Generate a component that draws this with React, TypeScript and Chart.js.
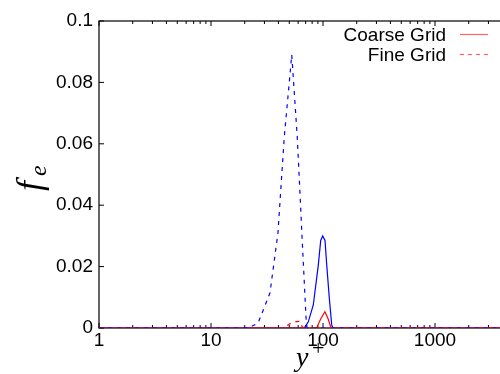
import React, { useEffect, useRef } from "react";
import { Chart, registerables } from "chart.js";
Chart.register(...registerables);

const xTickValues = [1, 10, 100, 1000, 10000];
const xTickLabels = ["1", "10", "100", "1000", "10000"];
const yTickValues = [0, 0.02, 0.04, 0.06, 0.08, 0.1];
const yTickLabels = ["0", "0.02", "0.04", "0.06", "0.08", "0.1"];

const legendLabels = ["Coarse Grid", "Fine Grid"];

// Fine grid, blue dashed
const fineBlueX = [1, 20, 22.3, 26.3, 30, 33.6, 36.5, 39.6, 42.5, 45.1, 48, 50, 52.6, 55, 58.9, 61.8, 64.9, 67.5, 70.5, 72, 100, 1000, 10000];
const fineBlueY = [0, 0, 0.0003, 0.0016, 0.0068, 0.0114, 0.0212, 0.031, 0.048, 0.0622, 0.073, 0.08, 0.089, 0.0785, 0.0622, 0.0466, 0.03, 0.0176, 0.0036, 0, 0, 0, 0];

// Coarse grid, blue solid
const coarseBlueX = [1, 68, 73.9, 81.9, 90.8, 95.4, 99.4, 104.2, 108, 113.8, 119.6, 122.8, 1000, 10000];
const coarseBlueY = [0, 0, 0.002, 0.0075, 0.0205, 0.0285, 0.03, 0.0285, 0.0205, 0.0098, 0.001, 0, 0, 0];

// Coarse grid, red solid
const coarseRedX = [1, 86, 88, 95.6, 104, 111, 118, 1000, 10000];
const coarseRedY = [0, 0, 0.0002, 0.003, 0.0053, 0.003, 0, 0, 0];

// Fine grid, red dashed
const fineRedX = [1, 44, 48.7, 53, 58, 62.3, 65, 67, 1000, 10000];
const fineRedY = [0, 0, 0.001, 0.0018, 0.0021, 0.0022, 0.0005, 0, 0, 0];

const zip = (xs: number[], ys: number[]) => xs.map((x, i) => ({ x, y: ys[i] }));

const SANS = '"Liberation Sans", Arial, sans-serif';
const SERIF = '"Liberation Serif", "Times New Roman", serif';

const framePlugin = {
  id: "frame",
  beforeDatasetsDraw(chart: any) {
    const { ctx, chartArea, scales } = chart;
    const { left, right, top, bottom } = chartArea;
    const x = scales.x;
    const y = scales.y;
    ctx.save();
    ctx.strokeStyle = "#000";
    ctx.lineWidth = 1.2;
    ctx.strokeRect(left, top, right - left, bottom - top);
    ctx.lineWidth = 1;
    const line = (x1: number, y1: number, x2: number, y2: number) => {
      ctx.beginPath();
      ctx.moveTo(x1, y1);
      ctx.lineTo(x2, y2);
      ctx.stroke();
    };
    for (let d = 0; d < 4; d++) {
      for (let m = 1; m <= 9; m++) {
        const px = x.getPixelForValue(m * Math.pow(10, d));
        const len = m === 1 ? 5 : 3;
        line(px, bottom, px, bottom - len);
        line(px, top, px, top + len);
      }
    }
    const pxLast = x.getPixelForValue(10000);
    line(pxLast, bottom, pxLast, bottom - 5);
    line(pxLast, top, pxLast, top + 5);
    yTickValues.forEach((v) => {
      const py = y.getPixelForValue(v);
      line(left, py, left + 5, py);
      line(right, py, right - 5, py);
    });
    ctx.restore();
  },
};

const textPlugin = {
  id: "texts",
  afterDraw(chart: any) {
    const { ctx, chartArea } = chart;
    const { left, top, bottom } = chartArea;
    ctx.save();
    // legend
    ctx.fillStyle = "#000";
    ctx.font = `19px ${SANS}`;
    ctx.textAlign = "right";
    ctx.textBaseline = "middle";
    const lx = left + 347;
    ctx.fillText(legendLabels[0], lx, top + 15);
    ctx.fillText(legendLabels[1], lx, top + 35);
    ctx.strokeStyle = "rgba(255,0,0,0.6)";
    ctx.lineWidth = 1.2;
    ctx.beginPath();
    ctx.moveTo(lx + 14, top + 13.5);
    ctx.lineTo(lx + 42, top + 13.5);
    ctx.stroke();
    ctx.setLineDash([4, 4]);
    ctx.beginPath();
    ctx.moveTo(lx + 14, top + 33.5);
    ctx.lineTo(lx + 42, top + 33.5);
    ctx.stroke();
    ctx.setLineDash([]);

    // y title f_e (rotated)
    ctx.save();
    ctx.translate(left - 58, top + 174);
    ctx.rotate(-Math.PI / 2);
    ctx.textAlign = "left";
    ctx.textBaseline = "alphabetic";
    ctx.font = `italic 36px ${SERIF}`;
    ctx.fillText("f", 4, 0);
    ctx.font = `italic 24px ${SERIF}`;
    ctx.fillText("e", 19, 5);
    ctx.restore();

    // x title y^+
    ctx.textAlign = "left";
    ctx.textBaseline = "alphabetic";
    ctx.font = `italic 28px ${SERIF}`;
    ctx.fillText("y", left + 197, bottom + 38);
    ctx.font = `22px ${SERIF}`;
    ctx.fillText("+", left + 213, bottom + 27);
    ctx.restore();
  },
};

export default function App() {
  const canvasRef = useRef<HTMLCanvasElement | null>(null);

  useEffect(() => {
    if (!canvasRef.current) return;
    const chart = new Chart(canvasRef.current, {
      type: "line",
      data: {
        datasets: [
          {
            label: "Fine blue",
            data: zip(fineBlueX, fineBlueY),
            borderColor: "#0000ff",
            borderWidth: 1.2,
            borderDash: [4, 5],
            pointRadius: 0,
            tension: 0,
          },
          {
            label: "Fine red",
            data: zip(fineRedX, fineRedY),
            borderColor: "#ff0000",
            borderWidth: 1.2,
            borderDash: [4, 5],
            pointRadius: 0,
            tension: 0,
          },
          {
            label: "Coarse red",
            data: zip(coarseRedX, coarseRedY),
            borderColor: "#ff0000",
            borderWidth: 1.2,
            pointRadius: 0,
            tension: 0,
          },
          {
            label: "Coarse blue",
            data: zip(coarseBlueX, coarseBlueY),
            borderColor: "#0000ff",
            borderWidth: 1.2,
            pointRadius: 0,
            tension: 0,
          },
        ],
      },
      options: {
        animation: false,
        responsive: false,
        devicePixelRatio: 1,
        layout: { padding: { top: 21, right: 53, left: 0, bottom: 0 } },
        plugins: { legend: { display: false }, tooltip: { enabled: false } },
        scales: {
          x: {
            type: "logarithmic",
            min: 1,
            max: 10000,
            grid: { display: false, drawTicks: false },
            border: { display: false },
            afterBuildTicks: (s: any) => {
              s.ticks = xTickValues.map((v) => ({ value: v }));
            },
            afterFit: (s: any) => {
              s.height = 46;
            },
            ticks: {
              autoSkip: false,
              maxRotation: 0,
              padding: 1,
              color: "#000",
              font: { family: SANS, size: 19 },
              callback: (v: any) => {
                const i = xTickValues.indexOf(Number(v));
                return i >= 0 ? xTickLabels[i] : "";
              },
            },
          },
          y: {
            type: "linear",
            min: 0,
            max: 0.1,
            grid: { display: false, drawTicks: false },
            border: { display: false },
            afterBuildTicks: (s: any) => {
              s.ticks = yTickValues.map((v) => ({ value: v }));
            },
            afterFit: (s: any) => {
              s.width = 99;
            },
            ticks: {
              padding: 6,
              color: "#000",
              font: { family: SANS, size: 19 },
              callback: (v: any) => {
                const i = yTickValues.findIndex((t) => Math.abs(t - Number(v)) < 1e-9);
                return i >= 0 ? yTickLabels[i] : "";
              },
            },
          },
        },
      },
      plugins: [framePlugin, textPlugin],
    } as any);
    return () => chart.destroy();
  }, []);

  return (
    <div
      style={{
        position: "fixed",
        left: 0,
        top: 0,
        width: 500,
        height: 374,
        overflow: "hidden",
        background: "#fff",
      }}
    >
      <canvas ref={canvasRef} width={600} height={374} style={{ display: "block", width: 600, height: 374 }} />
    </div>
  );
}
